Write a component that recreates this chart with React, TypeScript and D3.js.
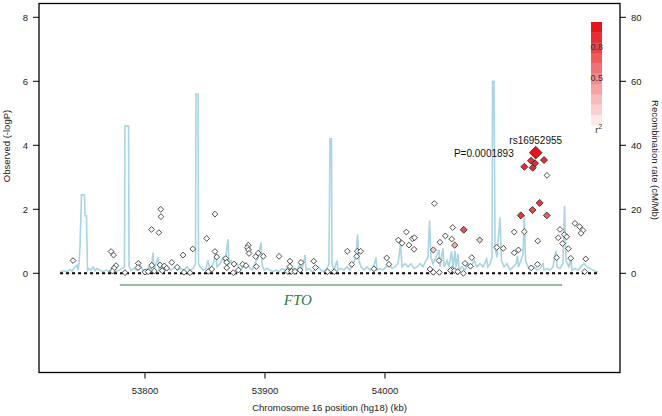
import React from "react";
import * as d3 from "d3";

// Recombination rate: [position (kb), rate (cM/Mb)]
const recombination: [number, number][] = [
  [53729.2,0.5],[53732.5,0.8],[53735.0,0.5],[53737.5,1.2],[53739.2,0.6],[53741.7,2],[53743.3,2.5],[53744.2,1],[53745.0,3],[53745.8,8],
  [53747.1,24.5],[53749.6,24.5],[53750.0,18],[53751.2,18],[53752.1,1],[53753.3,1.5],[53755.0,1],[53756.7,2],[53758.3,0.8],[53760.0,1.5],
  [53762.5,1],[53765.0,0.5],[53767.5,1],[53770.0,0.5],[53772.5,1],[53775.8,0.5],[53778.3,1],[53780.8,1.5],[53782.9,2],[53783.3,46],
  [53786.3,46],[53786.7,2],[53788.3,1],[53790.8,1.5],[53793.3,1],[53795.8,2.5],[53798.3,1],[53800.8,1],[53803.3,2],[53805.0,1],
  [53806.7,6.5],[53807.5,1],[53809.2,3],[53810.8,5],[53811.7,1],[53814.2,2],[53816.7,1],[53819.2,1.5],[53821.7,1],[53825.0,2],
  [53827.5,1],[53830.0,1.5],[53832.5,1],[53835.0,2],[53837.5,1],[53840.0,1.5],[53842.1,3],[53842.5,56],[53844.2,56],[53844.6,3],
  [53845.8,2],[53848.3,1],[53850.8,1.5],[53852.5,4],[53854.2,1],[53856.7,3],[53859.2,6],[53860.0,2],[53862.5,3],[53865.0,5],
  [53866.7,3],[53868.3,8],[53869.2,10.6],[53870.0,3],[53871.7,4],[53874.2,2],[53876.7,3],[53879.2,1],[53881.7,2],[53884.2,3],
  [53886.7,2],[53889.2,1],[53891.7,3],[53894.2,5],[53896.7,9.6],[53897.5,3],[53899.2,1],[53901.7,1.5],[53904.2,1],[53906.7,0.5],
  [53909.2,1],[53911.7,0.5],[53914.2,1.5],[53916.7,1],[53919.2,2],[53921.7,1],[53924.2,1.5],[53926.7,1],[53929.2,3],[53930.8,1],
  [53933.3,5.7],[53934.2,1],[53936.7,1.5],[53939.2,0.5],[53941.7,1],[53944.2,2],[53946.7,1],[53949.2,0.5],[53951.7,1.5],[53953.3,3],
  [53954.2,42],[53955.4,42],[53955.8,3],[53957.5,1],[53960.0,4],[53960.8,1],[53963.3,1.5],[53965.8,1],[53968.3,2],[53970.8,1],
  [53973.3,3],[53975.8,5],[53977.1,12.2],[53978.3,4],[53980.0,2],[53982.5,1],[53985.0,2],[53987.5,1],[53990.0,1.5],[53992.5,4.9],
  [53993.3,1],[53995.8,1.5],[53998.3,1],[54000.8,2],[54003.3,3],[54005.8,1.5],[54008.3,2],[54010.8,3],[54012.9,9],[54014.2,2],
  [54016.7,3],[54019.2,2],[54021.7,3],[54024.2,1.5],[54026.7,2],[54029.2,3],[54031.7,2],[54034.2,4],[54035.8,5],[54037.1,16.5],
  [54038.3,5],[54040.0,3],[54042.5,5],[54045.0,7.3],[54045.8,2],[54048.3,7.8],[54049.2,2],[54051.7,4],[54053.3,2],[54055.4,6.8],
  [54056.7,2],[54058.3,7],[54059.2,2],[54060.8,6],[54061.7,1],[54064.2,2],[54066.7,1],[54069.2,3],[54071.7,2],[54074.2,4],
  [54076.7,2],[54079.2,3],[54081.7,2],[54084.6,4.5],[54085.8,2],[54087.5,3],[54089.2,5],[54089.6,60],[54090.8,60],[54091.7,8],
  [54093.3,5],[54095.8,17.5],[54097.1,4],[54099.2,2],[54101.7,3],[54104.2,1],[54106.7,2],[54109.2,3],[54110.4,5.5],[54111.2,2],
  [54113.3,4],[54115.0,6],[54116.1,18.2],[54117.1,4],[54119.2,2],[54121.7,1],[54124.2,2],[54126.7,1],[54129.2,1.5],[54131.7,3],
  [54132.5,1],[54135.0,1.5],[54137.5,1],[54140.0,2],[54142.5,7],[54143.3,2],[54145.8,1.5],[54148.3,3],[54149.6,21],[54150.8,4],
  [54153.3,2],[54155.0,4.5],[54155.8,1],[54158.3,1.5],[54160.8,1],[54163.3,2],[54165.8,3],[54168.3,2],[54170.8,1.5],[54173.3,1],
  [54175.8,0.5],[54177.5,0.5],
];

// SNPs: [position (kb), -log10 P, r^2 with lead SNP]
const snps: [number, number, number][] = [
  [53740.0,0.40,0],[53771.7,0.68,0],[53773.8,0.57,0],[53775.8,0.24,0],[53774.2,0.16,0],[53772.9,0.07,0],
  [53783.3,0.02,0],[53794.4,0.31,0],[53794.2,0.18,0],[53800.0,0.04,0],[53802.7,0.05,0],[53805.4,1.37,0],
  [53813.1,2.00,0],[53813.3,1.77,0],[53811.5,1.27,0],[53805.6,0.25,0],[53807.8,0.07,0],[53812.5,0.26,0],
  [53816.1,0.23,0],[53818.1,0.16,0],[53814.4,0.08,0],[53822.3,0.34,0],[53826.9,0.19,0],[53831.7,0.57,0],
  [53832.5,0.03,0],[53837.5,0.02,0],[53839.8,0.76,0],[53851.4,1.09,0],[53858.3,1.85,0],[53858.3,0.68,0],
  [53859.8,0.51,0],[53852.8,0.06,0],[53855.6,0.13,0],[53867.3,0.46,0],[53868.1,0.34,0],[53868.1,0.17,0],
  [53874.2,0.29,0],[53873.6,0.02,0],[53877.8,0.10,0],[53881.4,0.28,0],[53884.2,0.24,0],[53886.1,0.88,0],
  [53885.4,0.80,0],[53886.3,0.73,0],[53886.7,0.62,0],[53892.2,0.52,0],[53894.4,0.63,0],[53898.6,0.53,0],
  [53892.8,0.21,0],[53911.7,0.53,0],[53920.8,0.38,0],[53920.8,0.21,0],[53918.8,0.06,0],[53922.1,0.06,0],
  [53925.0,0.06,0],[53929.2,0.10,0],[53930.0,0.34,0],[53940.6,0.38,0],[53942.1,0.18,0],[53952.1,0.05,0],
  [53957.7,0.05,0],[53968.6,0.69,0],[53972.3,0.28,0],[53976.4,0.53,0],[53976.9,0.69,0],[53979.7,0.69,0],
  [53990.8,0.14,0],[54001.4,0.48,0],[54003.3,0.28,0],[54011.1,1.04,0],[54014.2,0.94,0],[54017.8,1.29,0],
  [54020.0,0.88,0],[54022.8,1.08,0],[54024.6,1.11,0],[54024.2,0.75,0],[54041.1,2.18,0],[54040.3,0.73,0.2],
  [54037.5,0.13,0],[54040.3,0.03,0],[54045.0,0.40,0],[54045.3,0.03,0],[54056.4,1.43,0],[54065.6,1.36,0.75],
  [54050.3,1.17,0],[54055.6,1.07,0],[54045.8,0.97,0],[54058.1,0.88,0.35],[54078.9,1.04,0.2],[54055.8,0.12,0],
  [54054.6,0.09,0],[54057.9,0.08,0],[54060.6,0.05,0],[54065.3,0.0,0],[54066.7,0.31,0],[54072.3,0.49,0],
  [54071.2,0.22,0],[54093.1,0.81,0],[54098.6,0.78,0],[54107.7,0.64,0],[54111.2,0.73,0],[54107.7,1.29,0],
  [54113.2,1.81,0.85],[54116.1,1.30,0],[54122.9,1.98,0.8],[54128.9,2.20,0.85],[54134.8,1.81,0.7],[54127.3,1.01,0],
  [54121.9,0.17,0],[54127.1,0.28,0],[54135.0,3.06,0],[54116.1,3.33,0.9],[54123.1,3.30,0.9],[54125.0,3.44,0.9],
  [54121.7,3.52,0.9],[54132.5,3.54,0.9],[54125.6,3.77,1.0],[54145.8,1.37,0],[54144.4,1.11,0],[54149.4,1.21,0],
  [54151.4,1.14,0],[54147.9,0.93,0],[54152.8,0.77,0],[54143.1,0.49,0],[54154.8,0.47,0],[54158.3,1.56,0],
  [54162.1,1.46,0],[54165.0,1.34,0],[54163.3,1.25,0],[54167.3,0.45,0],[54166.4,0.05,0],
];

const leadName = "rs16952955";
const leadPLabel = "P=0.0001893";
const geneName = "FTO";
const geneStart = 53779;
const geneEnd = 54147.5;

const xTicks = [53800, 53900, 54000];
const yTicks = [0, 2, 4, 6, 8];
const recTicks = [0, 20, 40, 60, 80];
const legendLevels = [0.1, 0.2, 0.3, 0.4, 0.5, 0.6, 0.7, 0.8, 0.9, 1.0];
const legendLabels = [0.8, 0.5];

const FONT = "'Liberation Sans', Arial, Helvetica, sans-serif";

export default function App() {
  const W = 662, H = 416;
  const box = { l: 39, r: 620, t: 3.5, b: 372.5 };
  const x = d3.scaleLinear().domain([53800, 54000]).range([145, 385]);
  const y = d3.scaleLinear().domain([0, 8]).range([273.3, 17.3]);
  const yRec = d3.scaleLinear().domain([0, 80]).range([273.3, 17.3]);
  const color = d3.interpolateRgb("#ffffff", "#e3161b");
  const legendY = d3.scaleLinear().domain([0, 1]).range([125, 22]);

  const recLine = d3.line<[number, number]>()
    .x((d) => x(d[0]))
    .y((d) => yRec(d[1]))(recombination) || "";

  const recExtent = d3.extent(recombination, (d) => d[0]) as [number, number];
  const sorted = [...snps].sort((a, b) => a[2] - b[2]);
  const lead = snps.reduce((a, b) => (b[2] > a[2] ? b : a));
  const lx = x(lead[0]), ly = y(lead[1]);

  const diamond = (cx: number, cy: number, h: number) =>
    `M${cx},${cy - h}L${cx + h},${cy}L${cx},${cy + h}L${cx - h},${cy}Z`;

  return (
    <svg width={W} height={H} style={{ display: "block", position: "absolute", left: 0, top: 0 }} fontFamily={FONT}>
      <rect x={0} y={0} width={W} height={H} fill="#fff" />
      {/* recombination */}
      <path d={recLine} fill="none" stroke="#a9d4e3" strokeWidth={1.6} />
      {/* baseline dashed */}
      <line x1={x(recExtent[0])} x2={x(recExtent[1])} y1={y(0)} y2={y(0)} stroke="#000" strokeWidth={2} strokeDasharray="3,3" />
      {/* gene */}
      <line x1={x(geneStart)} x2={x(geneEnd)} y1={285} y2={285} stroke="#2e7d46" strokeWidth={1.2} />
      <text x={(x(geneStart) + x(geneEnd)) / 2 - 43} y={305} fontFamily="'Liberation Serif', 'Times New Roman', serif" fontStyle="italic" fontSize={15} fill="#2e7d46" textAnchor="middle">{geneName}</text>
      {/* SNPs */}
      {sorted.map((d, i) => {
        const isLead = d === lead;
        const h = isLead ? 6.3 : 2.9 + 0.7 * d[2];
        return (
          <path key={i} d={diamond(x(d[0]), y(d[1]), h)} fill={d[2] > 0 ? color(d[2]) : "#fff"} stroke="#222" strokeWidth={0.8} />
        );
      })}
      <text x={lx} y={ly - 9} fontSize={10} textAnchor="middle" fill="#111">{leadName}</text>
      <text x={lx - 22} y={ly + 4.5} fontSize={10} textAnchor="end" fill="#111">{leadPLabel}</text>
      {/* legend */}
      {legendLevels.map((v, i) => (
        <rect key={i} x={591} y={legendY(v)} width={11} height={legendY(v - 0.1) - legendY(v) + 0.3} fill={color(v)} />
      ))}
      {legendLabels.map((v, i) => (
        <text key={i} x={603} y={legendY(v) + 7.5} fontSize={9} textAnchor="end" fill="#333">{v}</text>
      ))}
      <text x={602} y={133} fontSize={9.5} textAnchor="end" fill="#333">r<tspan dy={-4} fontSize={6.5}>2</tspan></text>
      {/* box */}
      <rect x={box.l} y={box.t} width={box.r - box.l} height={box.b - box.t} fill="none" stroke="#000" strokeWidth={1.3} />
      {/* left axis */}
      {yTicks.map((t) => (
        <g key={t}>
          <line x1={box.l - 6} x2={box.l} y1={y(t)} y2={y(t)} stroke="#000" strokeWidth={1} />
          <text x={28} y={y(t) + 3.3} fontSize={9.5} textAnchor="end" fill="#222">{t}</text>
        </g>
      ))}
      <text transform={`translate(10,146) rotate(-90)`} fontSize={9.5} textAnchor="middle" fill="#222">Observed (-logP)</text>
      {/* right axis */}
      {recTicks.map((t) => (
        <g key={t}>
          <line x1={box.r} x2={box.r + 6} y1={yRec(t)} y2={yRec(t)} stroke="#000" strokeWidth={1} />
          <text x={631} y={yRec(t) + 3.3} fontSize={9.5} textAnchor="start" fill="#222">{t}</text>
        </g>
      ))}
      <text transform={`translate(652,160) rotate(90)`} fontSize={9.5} textAnchor="middle" fill="#222">Recombination rate (cM/Mb)</text>
      {/* bottom axis */}
      {xTicks.map((t) => (
        <g key={t}>
          <line x1={x(t)} x2={x(t)} y1={box.b} y2={box.b + 6} stroke="#000" strokeWidth={1} />
          <text x={x(t)} y={393.5} fontSize={9.5} textAnchor="middle" fill="#222">{t}</text>
        </g>
      ))}
      <text x={(box.l + box.r) / 2} y={410.5} fontSize={9.5} textAnchor="middle" fill="#222">Chromosome 16 position (hg18) (kb)</text>
    </svg>
  );
}
